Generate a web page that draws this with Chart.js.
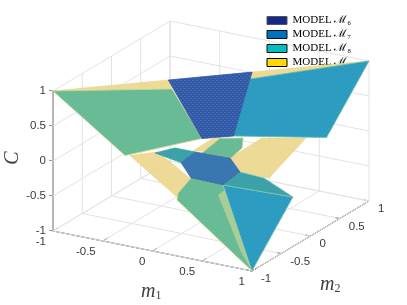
<!DOCTYPE html>
<html><head><meta charset="utf-8">
<style>html,body{margin:0;padding:0;background:#fff}#w{width:407px;height:305px}canvas{filter:blur(0.4px)}</style>
<script src="https://cdn.jsdelivr.net/npm/chart.js@4"></script>
</head><body><div id="w"><canvas id="c" width="407" height="305"></canvas></div>
<script>
const axisTicks = [-1, -0.5, 0, 0.5, 1];
const tickLabels = ['-1', '-0.5', '0', '0.5', '1'];
const legendLabels = ['MODEL ℳ₆', 'MODEL ℳ₇', 'MODEL ℳ₈', 'MODEL ℳ₉'];
// surface facets as [m1, m2, C]
const upperM9Left  = [[-1,-1,1],[-0.27,-0.27,1],[-0.218,-0.296,0.9]];
const upperM9Right = [[0.26,0.26,1],[1,1,1],[0.243,0.253,0.9]];
const upperM8 = [[-1,-1,1],[-0.218,-0.296,0.9],[0.014,-0.178,0.2],[-0.351,-0.872,0.2]];
const upperM6 = [[-0.27,-0.27,1],[0.26,0.26,1],[0.22,0.011,0.2],[0.014,-0.178,0.2]];
const upperM7 = [[0.243,0.253,0.9],[1,1,1],[0.938,0.379,0.2],[0.22,0.011,0.2]];
const stripLeftM9  = [[-0.842,0.047,-0.4],[-0.675,0.243,-0.4],[-0.067,-0.21,-0.4],[0.054,-0.655,-0.4]];
const stripMidM9   = [[-0.425,0.415,-0.4],[-0.433,0.753,-0.4],[-0.377,0.813,-0.4],[-0.349,0.457,-0.4]];
const stripRightM9 = [[-0.058,0.424,-0.4],[-0.069,0.989,-0.4],[0.438,0.879,-0.2],[0.487,0.164,-0.4],[0.193,0.167,-0.4]];
const midM8 = [[-0.156,0.111,-0.2],[-0.203,0.498,-0.2],[-0.036,0.608,-0.2],[0.082,0.39,-0.2],[0.125,0.129,-0.2]];
const lowerLeftM7 = [[-0.597,0.059,-0.3],[-0.51,0.252,-0.3],[-0.309,0.252,-0.3],[-0.282,-0.033,-0.3]];
const lowerM6 = [[-0.309,0.252,-0.3],[0.03,0.274,-0.3],[0.281,0.018,-0.3],[0.317,-0.333,-0.3],[-0.012,-0.321,-0.3],[-0.282,-0.033,-0.3]];
const lowerRightTopM7 = [[0.317,-0.333,-0.3],[0.281,0.018,-0.3],[0.537,-0.007,-0.3],[0.994,-0.289,-0.3]];
const lowerFaceM7 = [[0.317,-0.333,-0.3],[0.994,-0.289,-0.3],[1,-1,-1]];
const lowerFaceM8 = [[0.079,-0.698,-0.3],[-0.012,-0.321,-0.3],[0.317,-0.333,-0.3],[1,-1,-1],[0.159,-0.852,-0.3]];
const lowerSliverM9 = [[0.229,-0.269,-0.5],[0.218,-0.132,-0.5],[1,-1,-1],[0.854,-0.94,-0.8]];

// orthographic view of the box, in canvas units
const view = {x0:211, y0:146, xm1:99.5, ym1:20, xm2:58.5, ym2:-35, yC:-70};
const px = p => ({x: view.x0 + view.xm1*p[0] + view.xm2*p[1], y: view.y0 + view.ym1*p[0] + view.ym2*p[1] + view.yC*p[2]});

function tex(base, dot, alpha){
  const t = document.createElement('canvas'); t.width = 4; t.height = 4;
  const g = t.getContext('2d');
  g.fillStyle = base; g.fillRect(0,0,4,4);
  g.globalAlpha = alpha; g.fillStyle = dot;
  g.fillRect(0,0,2,1); g.fillRect(2,2,2,1);
  return g.createPattern(t,'repeat');
}
const cYellow = 'rgba(236,214,140,0.9)';
const cGreen = tex('#69BC94','#5DB69B',0.6);
const cDark = tex('#3458A8','#4A82B4',0.6);
const cBlue = tex('#2A9AC4','#3FA9B0',0.6);
const cHex = tex('#3A74AE','#3385B4',0.5);
const cTeal = tex('#3AA1AA','#4AA8A4',0.5);

const facets = [ // bottom to top
  [stripLeftM9,cYellow,cYellow],[stripMidM9,cYellow,cYellow],[stripRightM9,cYellow,cYellow],
  [midM8,cGreen,'#A9D08F'],[lowerLeftM7,cTeal,'#3AA1AA'],[lowerFaceM8,cGreen,'#DBD98F'],
  [lowerSliverM9,'rgba(214,216,150,0.6)','rgba(214,216,150,0)'],[lowerFaceM7,cBlue,'#86CCA8'],
  [lowerRightTopM7,cTeal,'#7FC4A8'],[lowerM6,cHex,'#3A74AE'],
  [upperM9Left,cYellow,cYellow],[upperM9Right,cYellow,cYellow],
  [upperM8,cGreen,'#C9D68F'],[upperM7,cBlue,'#5FBDB0'],[upperM6,cDark,'#3458A8']
];
const lines = [];
const addLine = (a,b,color,w) => lines.push({a,b,color,w});
for (const t of axisTicks) {
  addLine([t,-1,-1],[t,1,-1],'#e2e2e2',1);   // floor
  addLine([-1,t,-1],[1,t,-1],'#e2e2e2',1);
  addLine([-1,t,-1],[-1,t,1],'#e2e2e2',1);   // left wall
  addLine([-1,-1,t],[-1,1,t],'#e2e2e2',1);
  addLine([t,1,-1],[t,1,1],'#e2e2e2',1);     // back wall
  addLine([-1,1,t],[1,1,t],'#e2e2e2',1);
}
addLine([-1,-1,-1],[1,-1,-1],'#333',1);
addLine([1,-1,-1],[1,1,-1],'#333',1);
addLine([-1,-1,-1],[-1,-1,1],'#8c8c8c',2);
for (const t of axisTicks) {
  addLine([t,-1,-1],[t,-0.92,-1],'#333',1);
  addLine([1,t,-1],[0.95,t,-1],'#333',1);
  addLine([-1,-1,t],[-1.04,-1,t],'#8c8c8c',1);
}
const datasets = [];
const n = facets.length;
facets.forEach((f,i)=>datasets.push({data:f[0].map(px),showLine:true,fill:'shape',backgroundColor:f[1],borderColor:f[2],borderWidth:0.8,pointRadius:0,order:n-i+1,closed:true}));
lines.forEach(l=>datasets.push({data:[px(l.a),px(l.b)],showLine:true,fill:false,borderColor:l.color,borderWidth:l.w,pointRadius:0,order:1000}));
datasets.push({data:[],order:999}); // marks where the legend is painted: above the grid, below the surface
// close outlines
datasets.forEach(d=>{ if(d.closed) d.data.push({...d.data[0]}); });

const textFont = '"Liberation Sans"';
let legendDraw = null;
const labelsPlugin = {
  id:'labels3d',
  afterLayout(ch){
    const l = ch.legend; l.left = 264; l.top = 12; l.right = 407; l.bottom = 100;
    if(!legendDraw){ legendDraw = l.draw.bind(l); l.draw = ()=>{}; }
  },
  afterDatasetDraw(ch,args){ if(args.meta.order===999 && legendDraw) legendDraw(); },
  afterDatasetsDraw(ch){
    const c = ch.ctx, X = ch.scales.x, Y = ch.scales.y;
    const at = (p,dx,dy,s,align)=>{ const q=px(p); c.textAlign=align; c.fillText(s,X.getPixelForValue(q.x)+dx,Y.getPixelForValue(q.y)+dy); };
    c.save(); c.fillStyle='#3a3a3a'; c.font='11.5px '+textFont; c.textBaseline='middle';
    axisTicks.forEach((t,i)=>{
      at([-1,-1,t],-7,0,tickLabels[i],'right');
      at([t,-1,-1],-7,11,tickLabels[i],'right');
      at([1,t,-1],9,8,tickLabels[i],'left');
    });
    const math=(x,y,m,sub)=>{ c.textAlign='left'; c.fillStyle='#404040'; c.font='italic 20px "Liberation Serif"'; c.fillText(m,x,y); const w=c.measureText(m).width; c.font='12px "Liberation Serif"'; c.fillText(sub,x+w,y+4); };
    math(141,292,'m','1'); math(320,285,'m','2');
    c.translate(13,158); c.rotate(-Math.PI/2); c.textAlign='center'; c.font='italic 20px "Liberation Serif"'; c.fillText('C',0,0);
    c.restore();
  }
};
new Chart(document.getElementById('c'),{
  type:'scatter',
  data:{datasets},
  plugins:[labelsPlugin],
  options:{
    responsive:false,animation:false,
    layout:{padding:0},
    scales:{x:{type:'linear',display:false,min:0,max:407},y:{type:'linear',display:false,min:0,max:305,reverse:true}},
    plugins:{tooltip:{enabled:false},
      filler:{propagate:false,drawTime:'beforeDatasetDraw'},
      legend:{display:true,position:'chartArea',align:'start',
        labels:{boxWidth:20,boxHeight:8,padding:3,font:{family:'"Liberation Serif"',size:11},color:'#555',
          generateLabels:()=>legendLabels.map((t,i)=>({text:t,fillStyle:['#142A8B','#0072BD','#00BFBF','#FFD900'][i],strokeStyle:['#555','#111','#111','#000'][i],lineWidth:1,hidden:false,datasetIndex:i}))}
      }}
  }
});
</script></body></html>
